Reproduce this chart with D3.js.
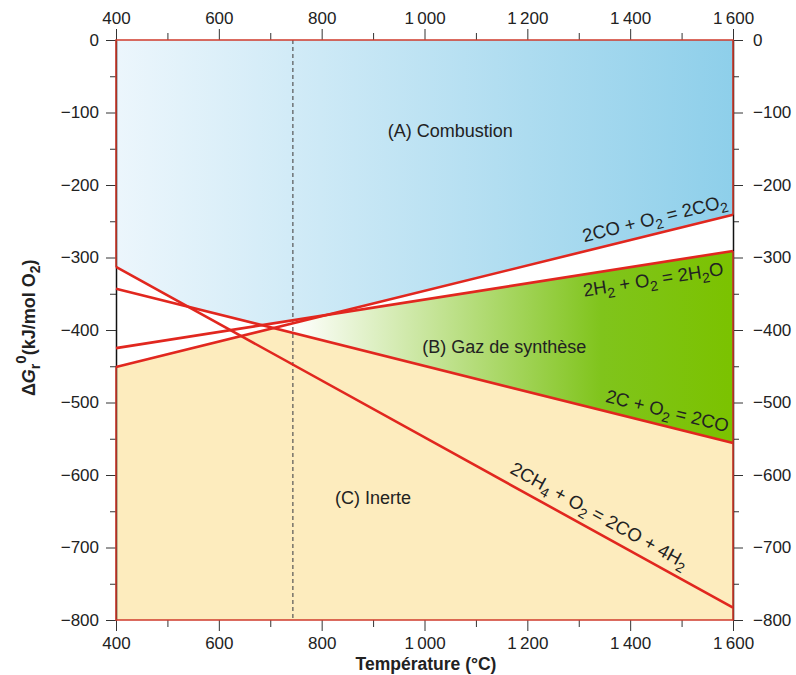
<!DOCTYPE html>
<html><head><meta charset="utf-8">
<script src="https://cdn.jsdelivr.net/npm/d3@7"></script>
<style>
body{margin:0;background:#fff;}
text{font-family:"Liberation Sans",Arial,sans-serif;fill:#222;}
</style></head>
<body><svg id="c" width="796" height="675"></svg>
<script>
// ---- data ----
const temps = [400, 1600];            // °C, line end points
const lineCO2 = [-451, -241];         // 2CO + O2 = 2CO2
const lineH2O = [-425, -291];         // 2H2 + O2 = 2H2O
const lineC   = [-343, -556];         // 2C + O2 = 2CO
const lineCH4 = [-313, -783];         // 2CH4 + O2 = 2CO + 4H2
const markerT = 744;                  // dashed vertical
const xMajor = [400, 600, 800, 1000, 1200, 1400, 1600];
const xMinor = [500, 700, 900, 1100, 1300, 1500];
const yMajor = [0, -100, -200, -300, -400, -500, -600, -700, -800];
const yMinor = [-50, -150, -250, -350, -450, -550, -650, -750];

const svg = d3.select("#c");
const x = d3.scaleLinear().domain([400, 1600]).range([116, 733]);
const y = d3.scaleLinear().domain([0, -800]).range([40, 620]);
const fmt = d3.formatLocale({decimal: ",", thousands: "\u2009", grouping: [3], currency: ["", ""], minus: "\u2212"}).format(",");

const lin = arr => d3.scaleLinear().domain(temps).range(arr);
const fCO2 = lin(lineCO2), fH2O = lin(lineH2O), fC = lin(lineC), fCH4 = lin(lineCH4);
const Ts = d3.range(400, 1600.001, 1);

const defs = svg.append("defs");
const gB = defs.append("linearGradient").attr("id", "gb").attr("gradientUnits", "userSpaceOnUse")
  .attr("x1", x(400)).attr("x2", x(1600)).attr("y1", 0).attr("y2", 0);
gB.append("stop").attr("offset", 0).attr("stop-color", "#ecf6fc");
gB.append("stop").attr("offset", 1).attr("stop-color", "#8ecfea");
const gG = defs.append("linearGradient").attr("id", "gg").attr("gradientUnits", "userSpaceOnUse")
  .attr("x1", x(markerT)).attr("x2", x(1600)).attr("y1", 0).attr("y2", 0);
gG.append("stop").attr("offset", 0).attr("stop-color", "#ffffff");
gG.append("stop").attr("offset", 0.7).attr("stop-color", "#80c41c");
gG.append("stop").attr("offset", 1).attr("stop-color", "#7bc200");

const area = d3.area().x(d => x(d.t)).y0(d => y(d.a)).y1(d => y(d.b));
const edge = "#cf3b2c";

// blue: above all lines
svg.append("path").datum(Ts.map(t => ({t, a: 0, b: Math.max(fCO2(t), fH2O(t), fC(t), fCH4(t))})))
  .attr("d", area).attr("fill", "url(#gb)");
// yellow: below lowest of C, H2O, CO2
svg.append("path").datum(Ts.map(t => ({t, a: -800, b: Math.min(fCO2(t), fH2O(t), fC(t))})))
  .attr("d", area).attr("fill", "#fdecbe");
// green: right of marker, between C line and lower of H2O/CO2
svg.append("path").datum(Ts.filter(t => t >= markerT).map(t => ({t, a: fC(t), b: Math.min(fCO2(t), fH2O(t))})))
  .attr("d", area).attr("fill", "url(#gg)");

// dashed marker
svg.append("line").attr("x1", x(markerT)).attr("x2", x(markerT)).attr("y1", y(0)).attr("y2", y(-800))
  .attr("stroke", "#555").attr("stroke-width", 1.2).attr("stroke-dasharray", "4,3");

// axes
const tickCol = "#333";
function axisG(axis, tr) {
  const g = svg.append("g").attr("transform", tr).call(axis);
  g.selectAll("path,line").attr("stroke", tickCol);
  g.selectAll("text").style("font-size", "17px").attr("fill", "#222");
  return g;
}
axisG(d3.axisLeft(y).tickValues(yMinor).tickSize(6).tickFormat(""), `translate(${x(400)},0)`).select(".domain").remove();
axisG(d3.axisLeft(y).tickValues(yMajor).tickSize(10).tickPadding(7).tickFormat(fmt).tickSizeOuter(0), `translate(${x(400)},0)`)
  .select(".domain").attr("stroke", "#111").attr("stroke-width", 1.5);
axisG(d3.axisRight(y).tickValues(yMinor).tickSize(6).tickFormat(""), `translate(${x(1600)},0)`).select(".domain").remove();
axisG(d3.axisRight(y).tickValues(yMajor).tickSize(10).tickPadding(10).tickFormat(fmt).tickSizeOuter(0), `translate(${x(1600)},0)`)
  .select(".domain").attr("stroke", "#111").attr("stroke-width", 1.5);
axisG(d3.axisTop(x).tickValues(xMinor).tickSize(7).tickFormat(""), `translate(0,${y(0)})`).select(".domain").remove();
axisG(d3.axisTop(x).tickValues(xMajor).tickSize(11).tickPadding(5).tickFormat(fmt).tickSizeOuter(0), `translate(0,${y(0)})`).select(".domain").remove();
axisG(d3.axisBottom(x).tickValues(xMinor).tickSize(7).tickFormat(""), `translate(0,${y(-800)})`).select(".domain").remove();
axisG(d3.axisBottom(x).tickValues(xMajor).tickSize(11).tickPadding(6).tickFormat(fmt).tickSizeOuter(0), `translate(0,${y(-800)})`).select(".domain").remove();

// red frame edges on the coloured regions
const bTop = Math.max(fCO2(400), fH2O(400), fC(400), fCH4(400));
const bTopR = Math.max(fCO2(1600), fH2O(1600), fC(1600), fCH4(1600));
const yTopL = Math.min(fCO2(400), fH2O(400), fC(400));
const yTopR = Math.min(fCO2(1600), fH2O(1600), fC(1600));
const segs = [
  [[400, bTop], [400, 0], [1600, 0], [1600, bTopR]],
  [[400, yTopL], [400, -800], [1600, -800], [1600, yTopR]],
  [[1600, fH2O(1600)], [1600, fC(1600)]]
];
const lg = d3.line().x(d => x(d[0])).y(d => y(d[1]));
segs.forEach(s => svg.append("path").attr("d", lg(s)).attr("fill", "none").attr("stroke", edge).attr("stroke-width", 1.6));

// reaction lines
[lineCO2, lineH2O, lineC, lineCH4].forEach(arr => {
  svg.append("path").datum(temps.map((t, i) => [t, arr[i]])).attr("d", lg)
    .attr("fill", "none").attr("stroke", "#e1271f").attr("stroke-width", 2.6);
});

// region labels
const rl = (t, v, s) => svg.append("text").attr("x", x(t)).attr("y", y(v)).attr("text-anchor", "middle").style("font-size", "18px").text(s);
rl(1050, -134, "(A) Combustion");
rl(1155, -432, "(B) Gaz de synthèse");
rl(900, -640, "(C) Inerte");

// equation labels along lines
function eqLabel(parts, t, f, off) {
  const p0 = [x(t - 20), y(f(t - 20))], p1 = [x(t + 20), y(f(t + 20))];
  const ang = Math.atan2(p1[1] - p0[1], p1[0] - p0[0]) * 180 / Math.PI;
  const tx = svg.append("text").attr("text-anchor", "middle").style("font-size", "18.5px")
    .attr("transform", `translate(${x(t)},${y(f(t))}) rotate(${ang}) translate(0,${off})`);
  parts.forEach(p => {
    if (p[1] === "sub") {
      tx.append("tspan").attr("dy", 5).style("font-size", "14px").text(p[0]);
      tx.append("tspan").attr("dy", -5).text("\u200B");
    } else tx.append("tspan").text(p[0]);
  });
}
eqLabel([["2CO + O"], ["2", "sub"], [" = 2CO"], ["2", "sub"]], 1455, fCO2, -9);
eqLabel([["2H"], ["2", "sub"], [" + O"], ["2", "sub"], [" = 2H"], ["2", "sub"], ["O"]], 1440, fH2O, 22);
eqLabel([["2C + O"], ["2", "sub"], [" = 2CO"]], 1465, fC, -9);
eqLabel([["2CH"], ["4", "sub"], [" + O"], ["2", "sub"], [" = 2CO + 4H"], ["2", "sub"]], 1325, fCH4, -10);

// axis titles
svg.append("text").attr("x", 426).attr("y", 670).attr("text-anchor", "middle")
  .style("font-size", "17.5px").style("font-weight", "bold").text("Température (°C)");
const yl = svg.append("text").attr("transform", `translate(35,${y(-397)}) rotate(-90)`).attr("text-anchor", "middle")
  .style("font-size", "18px").style("font-weight", "bold");
yl.append("tspan").text("\u0394");
yl.append("tspan").style("font-style", "italic").text("G");
yl.append("tspan").attr("dy", 5).style("font-size", "14px").text("r");
yl.append("tspan").attr("dy", -14).style("font-size", "15px").text("0");
yl.append("tspan").attr("dy", 9).text("(kJ/mol O");
yl.append("tspan").attr("dy", 5).style("font-size", "14px").text("2");
yl.append("tspan").attr("dy", -5).text(")");
</script></body></html>
